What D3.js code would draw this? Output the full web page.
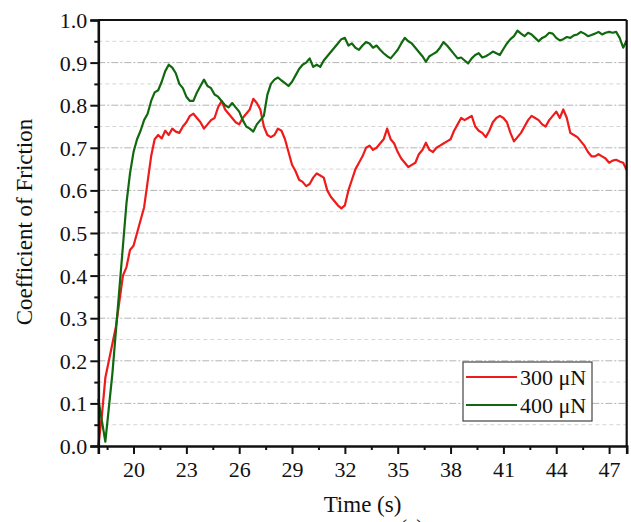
<!DOCTYPE html>
<html>
<head>
<meta charset="utf-8">
<script src="https://cdn.jsdelivr.net/npm/d3@7"></script>
<style>
  html, body { margin: 0; padding: 0; background: #fff; overflow: hidden; }
  svg { display: block; font-family: "Liberation Serif", "Times New Roman", serif; }
</style>
</head>
<body>
<svg id="chart" width="631" height="522"></svg>
<script>
// Sampling times (s)
const timeSec = [
  18.0,18.2,18.4,18.6,18.8,19.0,19.2,19.4,19.6,19.8,
  20.0,20.2,20.4,20.6,20.8,21.0,21.2,21.4,21.6,21.8,
  22.0,22.2,22.4,22.6,22.8,23.0,23.2,23.4,23.6,23.8,
  24.0,24.2,24.4,24.6,24.8,25.0,25.2,25.4,25.6,25.8,
  26.0,26.2,26.4,26.6,26.8,27.0,27.2,27.4,27.6,27.8,
  28.0,28.2,28.4,28.6,28.8,29.0,29.2,29.4,29.6,29.8,
  30.0,30.2,30.4,30.6,30.8,31.0,31.2,31.4,31.6,31.8,
  32.0,32.2,32.4,32.6,32.8,33.0,33.2,33.4,33.6,33.8,
  34.0,34.2,34.4,34.6,34.8,35.0,35.2,35.4,35.6,35.8,
  36.0,36.2,36.4,36.6,36.8,37.0,37.2,37.4,37.6,37.8,
  38.0,38.2,38.4,38.6,38.8,39.0,39.2,39.4,39.6,39.8,
  40.0,40.2,40.4,40.6,40.8,41.0,41.2,41.4,41.6,41.8,
  42.0,42.2,42.4,42.6,42.8,43.0,43.2,43.4,43.6,43.8,
  44.0,44.2,44.4,44.6,44.8,45.0,45.2,45.4,45.6,45.8,
  46.0,46.2,46.4,46.6,46.8,47.0,47.2,47.4,47.6,47.8,
  48.0
];

// Coefficient of friction, 300 µN load
const cof300 = [
  0.000,0.070,0.160,0.200,0.240,0.280,0.340,0.400,0.420,0.460,
  0.470,0.500,0.530,0.560,0.620,0.680,0.720,0.730,0.722,0.740,
  0.730,0.745,0.738,0.735,0.750,0.760,0.775,0.780,0.770,0.760,
  0.745,0.755,0.765,0.770,0.795,0.810,0.790,0.780,0.770,0.760,
  0.755,0.770,0.780,0.790,0.815,0.805,0.790,0.750,0.730,0.725,
  0.730,0.745,0.740,0.720,0.690,0.660,0.645,0.625,0.620,0.610,
  0.615,0.630,0.640,0.635,0.630,0.600,0.585,0.575,0.565,0.558,
  0.565,0.600,0.625,0.650,0.665,0.680,0.700,0.705,0.695,0.700,
  0.710,0.720,0.745,0.720,0.710,0.690,0.675,0.665,0.655,0.660,
  0.665,0.685,0.695,0.712,0.695,0.690,0.700,0.705,0.710,0.715,
  0.720,0.740,0.755,0.770,0.765,0.770,0.775,0.750,0.740,0.735,
  0.725,0.740,0.760,0.770,0.775,0.770,0.760,0.735,0.715,0.725,
  0.735,0.750,0.765,0.775,0.770,0.765,0.755,0.750,0.765,0.775,
  0.785,0.770,0.790,0.770,0.735,0.730,0.725,0.715,0.705,0.690,
  0.680,0.680,0.685,0.680,0.675,0.665,0.670,0.672,0.668,0.665,
  0.648
];

// Coefficient of friction, 400 µN load
const cof400 = [
  0.110,0.060,0.010,0.090,0.170,0.270,0.370,0.470,0.570,0.640,
  0.690,0.720,0.740,0.765,0.780,0.810,0.830,0.835,0.855,0.880,
  0.895,0.888,0.875,0.850,0.840,0.820,0.810,0.810,0.830,0.845,
  0.860,0.845,0.840,0.825,0.820,0.810,0.800,0.795,0.805,0.795,
  0.785,0.765,0.750,0.745,0.738,0.755,0.765,0.775,0.825,0.850,
  0.860,0.865,0.858,0.852,0.845,0.855,0.870,0.885,0.895,0.900,
  0.910,0.890,0.895,0.890,0.905,0.915,0.925,0.935,0.945,0.955,
  0.958,0.940,0.945,0.935,0.930,0.940,0.948,0.945,0.935,0.940,
  0.930,0.922,0.915,0.910,0.920,0.930,0.945,0.958,0.950,0.945,
  0.935,0.925,0.915,0.902,0.915,0.920,0.925,0.935,0.948,0.940,
  0.930,0.920,0.910,0.912,0.905,0.898,0.910,0.918,0.922,0.912,
  0.915,0.920,0.926,0.922,0.918,0.932,0.945,0.955,0.962,0.975,
  0.968,0.962,0.970,0.966,0.958,0.950,0.958,0.962,0.970,0.968,
  0.958,0.952,0.955,0.960,0.958,0.964,0.966,0.972,0.968,0.962,
  0.965,0.968,0.972,0.966,0.970,0.972,0.970,0.972,0.958,0.935,
  0.952
];

const xTicks = [20, 23, 26, 29, 32, 35, 38, 41, 44, 47];
const xMinorTicks = [18.5, 21.5, 24.5, 27.5, 30.5, 33.5, 36.5, 39.5, 42.5, 45.5];
const yTicks = [0.0, 0.1, 0.2, 0.3, 0.4, 0.5, 0.6, 0.7, 0.8, 0.9, 1.0];
const yMinorTicks = [0.05, 0.15, 0.25, 0.35, 0.45, 0.55, 0.65, 0.75, 0.85, 0.95];

const seriesNames = ["300 \u03bcN", "400 \u03bcN"];
const seriesColors = ["#ee1b1b", "#10680f"];

const svg = d3.select("#chart");
const m = { left: 98.3, right: 626.7, top: 20, bottom: 446 };

const x = d3.scaleLinear().domain([18, 48]).range([m.left, m.right]);
const y = d3.scaleLinear().domain([0, 1]).range([m.bottom, m.top]);

// Horizontal grid: minor (light dashed) and major (dash-dot)
svg.append("g").selectAll("line").data(yMinorTicks).join("line")
  .attr("x1", m.left).attr("x2", m.right)
  .attr("y1", d => y(d)).attr("y2", d => y(d))
  .attr("stroke", "#d6d6d6").attr("stroke-width", 1)
  .attr("stroke-dasharray", "4,3");
svg.append("g").selectAll("line").data(yTicks.filter(d => d > 0 && d < 1)).join("line")
  .attr("x1", m.left).attr("x2", m.right)
  .attr("y1", d => y(d)).attr("y2", d => y(d))
  .attr("stroke", "#b4b4b4").attr("stroke-width", 1)
  .attr("stroke-dasharray", "7,2,2,2");

// Data lines
const line = d3.line().x((d, i) => x(timeSec[i])).y(d => y(d));
const plot = svg.append("g");
[cof300, cof400].forEach((vals, k) => {
  plot.append("path")
    .datum(vals)
    .attr("d", line)
    .attr("fill", "none")
    .attr("stroke", seriesColors[k])
    .attr("stroke-width", 2.2)
    .attr("stroke-linejoin", "round");
});

// Frame (top and right)
svg.append("line").attr("x1", m.left).attr("x2", m.right).attr("y1", m.top).attr("y2", m.top)
  .attr("stroke", "#111").attr("stroke-width", 2.2);
svg.append("line").attr("x1", m.right).attr("x2", m.right).attr("y1", m.top).attr("y2", m.bottom)
  .attr("stroke", "#111").attr("stroke-width", 2.2);

// Axes
const tickFont = 22;
svg.append("g").attr("transform", `translate(0,${m.bottom})`)
  .call(d3.axisBottom(x).tickValues(xTicks).tickSize(8).tickPadding(7).tickFormat(d3.format("d")));
svg.append("g").attr("transform", `translate(0,${m.bottom})`)
  .call(d3.axisBottom(x).tickValues(xMinorTicks).tickSize(4).tickFormat(""))
  .call(g => g.select(".domain").remove());
const yAxis = svg.append("g").attr("transform", `translate(${m.left},0)`)
  .call(d3.axisLeft(y).tickValues(yTicks).tickSize(8).tickPadding(3).tickFormat(d3.format(".1f")));
svg.append("g").attr("transform", `translate(${m.left},0)`)
  .call(d3.axisLeft(y).tickValues(yMinorTicks).tickSize(4).tickFormat(""))
  .call(g => g.select(".domain").remove());

svg.selectAll(".domain").attr("stroke", "#111").attr("stroke-width", 2.6);
svg.selectAll(".tick line").attr("stroke", "#111").attr("stroke-width", 2);
svg.selectAll(".tick text")
  .attr("font-family", "Liberation Serif, Times New Roman, serif")
  .attr("font-size", tickFont).attr("fill", "#111");
yAxis.selectAll(".tick text").attr("dy", "0.34em");

// Axis titles
svg.append("text")
  .attr("x", (m.left + m.right) / 2).attr("y", 512)
  .attr("text-anchor", "middle").attr("font-size", 23).attr("fill", "#111")
  .text("Time (s)");
svg.append("text")
  .attr("transform", `translate(32,${(m.top + m.bottom) / 2 - 11}) rotate(-90)`)
  .attr("text-anchor", "middle").attr("font-size", 23).attr("fill", "#111")
  .text("Coefficient of Friction");

// Panel label, partly below the page edge
svg.append("text")
  .attr("x", 400).attr("y", 534).attr("font-size", 21).attr("fill", "#111")
  .text("(a)");

// Legend
const lg = svg.append("g").attr("transform", "translate(463,362)");
lg.append("rect").attr("width", 129).attr("height", 59)
  .attr("fill", "#fff").attr("stroke", "#444").attr("stroke-width", 1.2);
seriesNames.forEach((name, k) => {
  const yy = 15 + k * 28;
  lg.append("line").attr("x1", 3).attr("x2", 54).attr("y1", yy).attr("y2", yy)
    .attr("stroke", seriesColors[k]).attr("stroke-width", 2.2);
  lg.append("text").attr("x", 57).attr("y", yy + 8)
    .attr("font-size", 22).attr("fill", "#111").text(name);
});
</script>
</body>
</html>
